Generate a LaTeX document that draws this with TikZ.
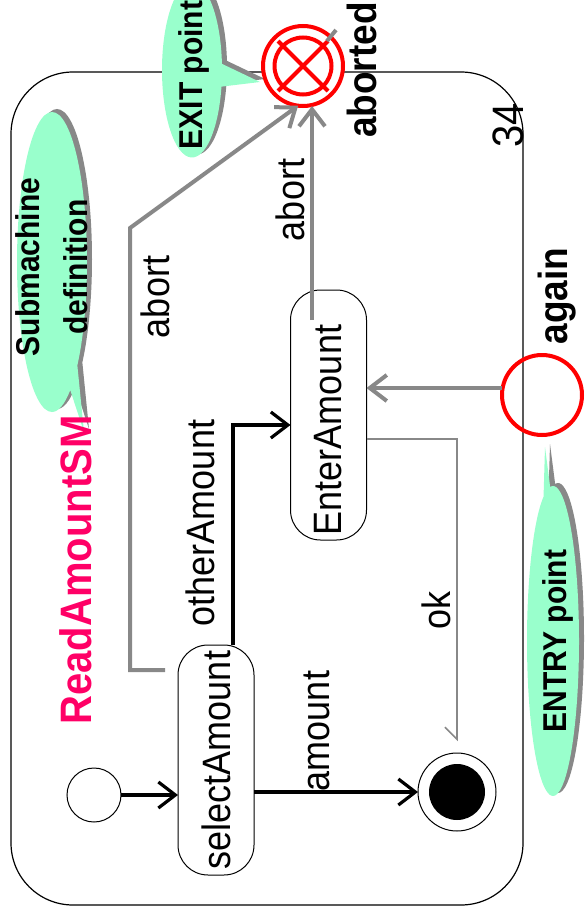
\documentclass[tikz,border=0pt]{standalone}
\usepackage{fontspec}
\setmainfont{Liberation Sans}
\usetikzlibrary{arrows.meta,shapes.callouts,shadows,calc}
\definecolor{mint}{HTML}{99FFCC}
\definecolor{linegray}{HTML}{888888}
\definecolor{titlepink}{HTML}{FF0066}
\definecolor{pointred}{HTML}{FF0000}
% text set vertically, reading upwards, slightly stretched
\newcommand\uptext[1]{\rotatebox{90}{\scalebox{1}[1.1]{#1}}}

\begin{document}
\begin{tikzpicture}[x=1pt,y=-1pt,
  every node/.style={inner sep=0pt, outer sep=0pt},
  statebox/.style={draw, line width=1pt, rounded corners=30pt, minimum width=76pt, font=\fontsize{36}{40}\selectfont},
  lbl/.style={font=\fontsize{36}{40}\selectfont},
  boldlbl/.style={font=\fontsize{37}{40}\selectfont\bfseries},
  balloon/.style={ellipse callout, fill=mint, drop shadow={shadow xshift=5pt, shadow yshift=3pt, fill=linegray, opacity=1}},
  baltext/.style={font=\fontsize{30}{43}\selectfont\bfseries},
  trans/.style={line width=3.2pt, -{Straight Barb[length=17pt,width=26pt]}},
  graytrans/.style={line width=4pt, linegray, -{Straight Barb[length=17pt,width=26pt]}},
]
\useasboundingbox (0,0) rectangle (586,920);

% submachine frame
\node[draw, line width=1.2pt, rounded corners=62pt, minimum width=512pt, minimum height=833pt] (sm) at (267,488.5) {};

% comment balloons
\node[balloon, minimum width=70pt, minimum height=300pt, callout absolute pointer={(84,432)}] (subBalloon) at (52,262) {};
\node[baltext] (subText) at (54,267) {\uptext{\begin{tabular}{@{}c@{}}Submachine\\definition\end{tabular}}};

\node[balloon, minimum width=52pt, minimum height=310pt, callout absolute pointer={(545,447)}] (entryBalloon) at (553,641) {};
\node[baltext] (entryText) at (558,641) {\uptext{ENTRY point}};

\node[balloon, minimum width=60pt, minimum height=175pt, callout absolute pointer={(260,82)}] (exitBalloon) at (192,70) {};
\node[baltext] (exitText) at (194,75) {\uptext{EXIT point}};

% title
\node[font=\fontsize{40}{44}\selectfont\bfseries, text=titlepink] (title) at (76,570) {\uptext{ReadAmountSM}};

% states and pseudo states
\node[statebox, minimum height=230pt] (sel) at (216,760) {\uptext{selectAmount}};
\node[statebox, minimum height=250pt] (ent) at (328.5,415) {\uptext{EnterAmount\hspace{30pt}}};
\node[circle, draw, line width=1pt, minimum size=54pt] (init) at (94,795) {};
\node[circle, draw, line width=1pt, fill=white, minimum size=78pt] (fin) at (457,792) {};
\node[circle, fill=black, minimum size=56pt] (finDot) at (fin) {};

% entry point
\node[circle, draw=pointred, line width=4pt, minimum size=80pt] (again) at (542,395) {};
\node[boldlbl] (againLbl) at (557,296) {\uptext{again}};

% transitions
\draw[trans] (init.east) -- (init.east -| sel.west);
\draw[trans] (fin.west -| sel.east) -- (fin.west);
\draw[trans] ([xshift=17pt]sel.north) |- (ent.west |- 0,425);
\draw[line width=1.5pt, linegray, -{Straight Barb[right,length=12pt,width=24pt]}]
  (ent.east |- 0,439) -| ([yshift=12pt]fin.north);
\draw[graytrans] (again.west |- 0,388) -- (ent.east |- 0,388);

\coordinate (entAbort) at (312,320);
\coordinate (selAbort) at (165,670);

% exit point
\node[circle, draw=pointred, line width=4pt, fill=white, minimum size=80pt] (exitpt) at (303,66) {};
\node[circle, draw=pointred, line width=4pt, minimum size=57pt] (exitIn) at (exitpt) {};
\draw[pointred, line width=4pt] ($(exitpt)+(-25,-25)$) -- ($(exitpt)+(25,25)$);
\draw[pointred, line width=4pt] ($(exitpt)+(25,-25)$) -- ($(exitpt)+(-25,25)$);
\draw[linegray, line width=4pt] (327,41) -- (336,30);
\node[boldlbl] (abortedLbl) at (362,70) {\uptext{aborted}};

\draw[graytrans] (entAbort) -- (entAbort |- exitpt.south);
\draw[graytrans] (selAbort) -- (130,670) -- (130,228) -- (exitpt.263);

% transition labels
\node[lbl] (abortLblA) at (290,200) {\uptext{abort}};
\node[lbl] (abortLblB) at (155,297) {\uptext{abort}};
\node[lbl] (otherLbl) at (200,523) {\uptext{otherAmount}};
\node[lbl] (amountLbl) at (317,731) {\uptext{amount}};
\node[lbl] (okLbl) at (436,610) {\uptext{ok}};
\node[font=\fontsize{40}{44}\selectfont] (numLbl) at (508,125) {\uptext{34}};
\end{tikzpicture}
\end{document}
